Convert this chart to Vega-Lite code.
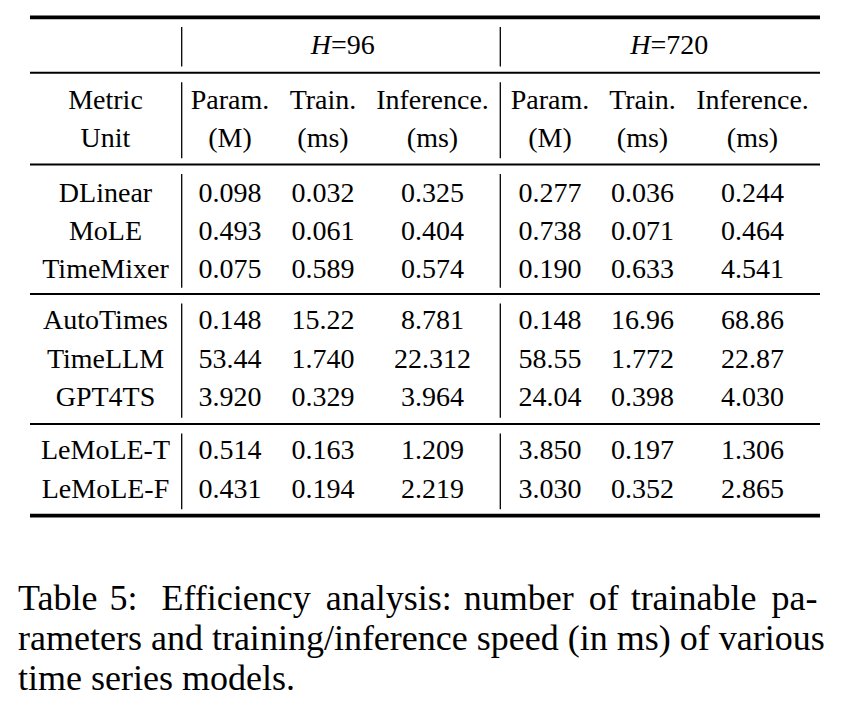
{
  "$schema": "https://vega.github.io/schema/vega-lite/v6.json",
  "width": 860,
  "height": 710,
  "autosize": {"type": "none"},
  "padding": 0,
  "background": "white",
  "config": {"view": {"stroke": null}, "text": {"font": "Liberation Serif", "color": "black"}},
  "datasets": {
    "cells": [
      {"r": 1, "c": 1, "t": "Metric"}, {"r": 1, "c": 2, "t": "Param."}, {"r": 1, "c": 3, "t": "Train."}, {"r": 1, "c": 4, "t": "Inference."}, {"r": 1, "c": 5, "t": "Param."}, {"r": 1, "c": 6, "t": "Train."}, {"r": 1, "c": 7, "t": "Inference."},
      {"r": 2, "c": 1, "t": "Unit"}, {"r": 2, "c": 2, "t": "(M)"}, {"r": 2, "c": 3, "t": "(ms)"}, {"r": 2, "c": 4, "t": "(ms)"}, {"r": 2, "c": 5, "t": "(M)"}, {"r": 2, "c": 6, "t": "(ms)"}, {"r": 2, "c": 7, "t": "(ms)"},
      {"r": 3, "c": 1, "t": "DLinear"}, {"r": 3, "c": 2, "t": "0.098"}, {"r": 3, "c": 3, "t": "0.032"}, {"r": 3, "c": 4, "t": "0.325"}, {"r": 3, "c": 5, "t": "0.277"}, {"r": 3, "c": 6, "t": "0.036"}, {"r": 3, "c": 7, "t": "0.244"},
      {"r": 4, "c": 1, "t": "MoLE"}, {"r": 4, "c": 2, "t": "0.493"}, {"r": 4, "c": 3, "t": "0.061"}, {"r": 4, "c": 4, "t": "0.404"}, {"r": 4, "c": 5, "t": "0.738"}, {"r": 4, "c": 6, "t": "0.071"}, {"r": 4, "c": 7, "t": "0.464"},
      {"r": 5, "c": 1, "t": "TimeMixer"}, {"r": 5, "c": 2, "t": "0.075"}, {"r": 5, "c": 3, "t": "0.589"}, {"r": 5, "c": 4, "t": "0.574"}, {"r": 5, "c": 5, "t": "0.190"}, {"r": 5, "c": 6, "t": "0.633"}, {"r": 5, "c": 7, "t": "4.541"},
      {"r": 6, "c": 1, "t": "AutoTimes"}, {"r": 6, "c": 2, "t": "0.148"}, {"r": 6, "c": 3, "t": "15.22"}, {"r": 6, "c": 4, "t": "8.781"}, {"r": 6, "c": 5, "t": "0.148"}, {"r": 6, "c": 6, "t": "16.96"}, {"r": 6, "c": 7, "t": "68.86"},
      {"r": 7, "c": 1, "t": "TimeLLM"}, {"r": 7, "c": 2, "t": "53.44"}, {"r": 7, "c": 3, "t": "1.740"}, {"r": 7, "c": 4, "t": "22.312"}, {"r": 7, "c": 5, "t": "58.55"}, {"r": 7, "c": 6, "t": "1.772"}, {"r": 7, "c": 7, "t": "22.87"},
      {"r": 8, "c": 1, "t": "GPT4TS"}, {"r": 8, "c": 2, "t": "3.920"}, {"r": 8, "c": 3, "t": "0.329"}, {"r": 8, "c": 4, "t": "3.964"}, {"r": 8, "c": 5, "t": "24.04"}, {"r": 8, "c": 6, "t": "0.398"}, {"r": 8, "c": 7, "t": "4.030"},
      {"r": 9, "c": 1, "t": "LeMoLE-T"}, {"r": 9, "c": 2, "t": "0.514"}, {"r": 9, "c": 3, "t": "0.163"}, {"r": 9, "c": 4, "t": "1.209"}, {"r": 9, "c": 5, "t": "3.850"}, {"r": 9, "c": 6, "t": "0.197"}, {"r": 9, "c": 7, "t": "1.306"},
      {"r": 10, "c": 1, "t": "LeMoLE-F"}, {"r": 10, "c": 2, "t": "0.431"}, {"r": 10, "c": 3, "t": "0.194"}, {"r": 10, "c": 4, "t": "2.219"}, {"r": 10, "c": 5, "t": "3.030"}, {"r": 10, "c": 6, "t": "0.352"}, {"r": 10, "c": 7, "t": "2.865"}
    ],
    "heads": [
      {"r": 0, "c": 3, "h": "H", "rest": "=96"},
      {"r": 0, "c": 6, "h": "H", "rest": "=720"}
    ],
    "hrules": [
      {"rule": "top", "r": -0.5, "c1": 0, "c2": 7.5},
      {"rule": "mid", "r": 0.5, "c1": 0, "c2": 7.5},
      {"rule": "mid", "r": 2.5, "c1": 0, "c2": 7.5},
      {"rule": "mid", "r": 5.5, "c1": 0, "c2": 7.5},
      {"rule": "mid", "r": 8.5, "c1": 0, "c2": 7.5},
      {"rule": "bottom", "r": 10.5, "c1": 0, "c2": 7.5}
    ],
    "vrules": [
      {"c": 1.5, "r1": -0.5, "r2": 0.5}, {"c": 1.5, "r1": 0.5, "r2": 2.5}, {"c": 1.5, "r1": 2.5, "r2": 5.5}, {"c": 1.5, "r1": 5.5, "r2": 8.5}, {"c": 1.5, "r1": 8.5, "r2": 10.5},
      {"c": 4.5, "r1": -0.5, "r2": 0.5}, {"c": 4.5, "r1": 0.5, "r2": 2.5}, {"c": 4.5, "r1": 2.5, "r2": 5.5}, {"c": 4.5, "r1": 5.5, "r2": 8.5}, {"c": 4.5, "r1": 8.5, "r2": 10.5}
    ],
    "caption": [
      {"r": 11, "c": 0, "t": "Table\u20045:\u2002\u2006Efficiency \u2006analysis:\u2004number \u2006of\u2004trainable \u2006pa-"},
      {"r": 12, "c": 0, "t": "rameters and training/inference speed (in ms) of various"},
      {"r": 13, "c": 0, "t": "time series models."}
    ]
  },
  "layer": [
    {
      "data": {"name": "hrules"},
      "transform": [{"filter": "datum.rule !== 'mid'"}],
      "mark": {"type": "rule", "color": "black", "strokeWidth": 3.6},
      "encoding": {
        "x": {"field": "c1", "type": "quantitative", "axis": null, "scale": {"domain": [0, 1, 1.5, 2, 3, 4, 4.5, 5, 6, 7, 7.5], "range": [30, 105.5, 181.7, 230, 323, 432.5, 500.3, 550, 642.5, 752.5, 820], "zero": false, "nice": false}},
        "x2": {"field": "c2"},
        "y": {"field": "r", "type": "quantitative", "axis": null, "scale": {"domain": [-0.5, 0, 0.5, 1, 2, 2.5, 3, 4, 5, 5.5, 6, 7, 8, 8.5, 9, 10, 10.5, 11, 12, 13], "range": [17.4, 54.3, 72.7, 109, 146.7, 164.5, 201.7, 240, 277.5, 294, 329.3, 367.7, 406, 424, 459.3, 497.7, 515.6, 610, 650, 689.5], "zero": false, "nice": false}}
      }
    },
    {
      "data": {"name": "hrules"},
      "transform": [{"filter": "datum.rule === 'mid'"}],
      "mark": {"type": "rule", "color": "black", "strokeWidth": 2},
      "encoding": {
        "x": {"field": "c1", "type": "quantitative", "axis": null, "scale": {"domain": [0, 1, 1.5, 2, 3, 4, 4.5, 5, 6, 7, 7.5], "range": [30, 105.5, 181.7, 230, 323, 432.5, 500.3, 550, 642.5, 752.5, 820], "zero": false, "nice": false}},
        "x2": {"field": "c2"},
        "y": {"field": "r", "type": "quantitative", "axis": null, "scale": {"domain": [-0.5, 0, 0.5, 1, 2, 2.5, 3, 4, 5, 5.5, 6, 7, 8, 8.5, 9, 10, 10.5, 11, 12, 13], "range": [17.4, 54.3, 72.7, 109, 146.7, 164.5, 201.7, 240, 277.5, 294, 329.3, 367.7, 406, 424, 459.3, 497.7, 515.6, 610, 650, 689.5], "zero": false, "nice": false}}
      }
    },
    {
      "data": {"name": "vrules"},
      "mark": {"type": "rule", "color": "black", "strokeWidth": 1.3, "yOffset": 9.5, "y2Offset": -6.3},
      "encoding": {
        "x": {"field": "c", "type": "quantitative", "axis": null, "scale": {"domain": [0, 1, 1.5, 2, 3, 4, 4.5, 5, 6, 7, 7.5], "range": [30, 105.5, 181.7, 230, 323, 432.5, 500.3, 550, 642.5, 752.5, 820], "zero": false, "nice": false}},
        "y": {"field": "r1", "type": "quantitative", "axis": null, "scale": {"domain": [-0.5, 0, 0.5, 1, 2, 2.5, 3, 4, 5, 5.5, 6, 7, 8, 8.5, 9, 10, 10.5, 11, 12, 13], "range": [17.4, 54.3, 72.7, 109, 146.7, 164.5, 201.7, 240, 277.5, 294, 329.3, 367.7, 406, 424, 459.3, 497.7, 515.6, 610, 650, 689.5], "zero": false, "nice": false}},
        "y2": {"field": "r2"}
      }
    },
    {
      "data": {"name": "cells"},
      "mark": {"type": "text", "fontSize": 28, "align": "center", "baseline": "alphabetic"},
      "encoding": {
        "x": {"field": "c", "type": "quantitative", "axis": null, "scale": {"domain": [0, 1, 1.5, 2, 3, 4, 4.5, 5, 6, 7, 7.5], "range": [30, 105.5, 181.7, 230, 323, 432.5, 500.3, 550, 642.5, 752.5, 820], "zero": false, "nice": false}},
        "y": {"field": "r", "type": "quantitative", "axis": null, "scale": {"domain": [-0.5, 0, 0.5, 1, 2, 2.5, 3, 4, 5, 5.5, 6, 7, 8, 8.5, 9, 10, 10.5, 11, 12, 13], "range": [17.4, 54.3, 72.7, 109, 146.7, 164.5, 201.7, 240, 277.5, 294, 329.3, 367.7, 406, 424, 459.3, 497.7, 515.6, 610, 650, 689.5], "zero": false, "nice": false}},
        "text": {"field": "t"}
      }
    },
    {
      "data": {"name": "heads"},
      "mark": {"type": "text", "fontSize": 28, "align": "right", "baseline": "alphabetic", "fontStyle": "italic", "dx": 8},
      "encoding": {
        "x": {"field": "c", "type": "quantitative", "axis": null, "scale": {"domain": [0, 1, 1.5, 2, 3, 4, 4.5, 5, 6, 7, 7.5], "range": [30, 105.5, 181.7, 230, 323, 432.5, 500.3, 550, 642.5, 752.5, 820], "zero": false, "nice": false}},
        "y": {"field": "r", "type": "quantitative", "axis": null, "scale": {"domain": [-0.5, 0, 0.5, 1, 2, 2.5, 3, 4, 5, 5.5, 6, 7, 8, 8.5, 9, 10, 10.5, 11, 12, 13], "range": [17.4, 54.3, 72.7, 109, 146.7, 164.5, 201.7, 240, 277.5, 294, 329.3, 367.7, 406, 424, 459.3, 497.7, 515.6, 610, 650, 689.5], "zero": false, "nice": false}},
        "text": {"field": "h"}
      }
    },
    {
      "data": {"name": "heads"},
      "mark": {"type": "text", "fontSize": 28, "align": "left", "baseline": "alphabetic", "dx": 8},
      "encoding": {
        "x": {"field": "c", "type": "quantitative", "axis": null, "scale": {"domain": [0, 1, 1.5, 2, 3, 4, 4.5, 5, 6, 7, 7.5], "range": [30, 105.5, 181.7, 230, 323, 432.5, 500.3, 550, 642.5, 752.5, 820], "zero": false, "nice": false}},
        "y": {"field": "r", "type": "quantitative", "axis": null, "scale": {"domain": [-0.5, 0, 0.5, 1, 2, 2.5, 3, 4, 5, 5.5, 6, 7, 8, 8.5, 9, 10, 10.5, 11, 12, 13], "range": [17.4, 54.3, 72.7, 109, 146.7, 164.5, 201.7, 240, 277.5, 294, 329.3, 367.7, 406, 424, 459.3, 497.7, 515.6, 610, 650, 689.5], "zero": false, "nice": false}},
        "text": {"field": "rest"}
      }
    },
    {
      "data": {"name": "caption"},
      "mark": {"type": "text", "fontSize": 36, "align": "left", "baseline": "alphabetic", "dx": -12},
      "encoding": {
        "x": {"field": "c", "type": "quantitative", "axis": null, "scale": {"domain": [0, 1, 1.5, 2, 3, 4, 4.5, 5, 6, 7, 7.5], "range": [30, 105.5, 181.7, 230, 323, 432.5, 500.3, 550, 642.5, 752.5, 820], "zero": false, "nice": false}},
        "y": {"field": "r", "type": "quantitative", "axis": null, "scale": {"domain": [-0.5, 0, 0.5, 1, 2, 2.5, 3, 4, 5, 5.5, 6, 7, 8, 8.5, 9, 10, 10.5, 11, 12, 13], "range": [17.4, 54.3, 72.7, 109, 146.7, 164.5, 201.7, 240, 277.5, 294, 329.3, 367.7, 406, 424, 459.3, 497.7, 515.6, 610, 650, 689.5], "zero": false, "nice": false}},
        "text": {"field": "t"}
      }
    }
  ]
}
